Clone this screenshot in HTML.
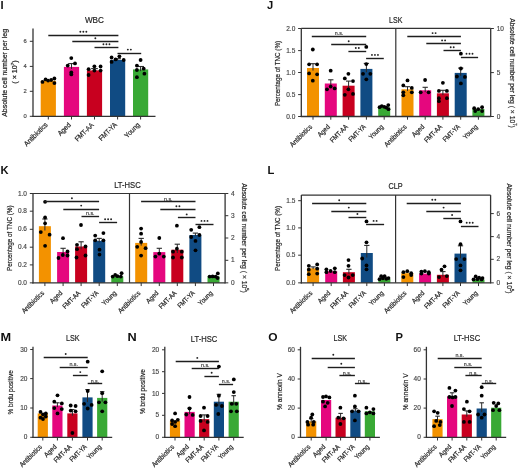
<!DOCTYPE html>
<html><head><meta charset="utf-8"><style>
html,body{margin:0;padding:0;background:#fff;}
svg{display:block;font-family:"Liberation Sans", sans-serif;will-change:transform;}
</style></head><body>
<svg width="520" height="470" viewBox="0 0 520 470">
<rect width="520" height="470" fill="#fff"/>
<text x="0.6" y="9.3" font-size="11.2" text-anchor="start" fill="#111" font-weight="bold">I</text>
<text x="94.4" y="22.7" font-size="9.2" text-anchor="middle" fill="#252525" textLength="19" lengthAdjust="spacingAndGlyphs" stroke="#252525" stroke-width="0.2">WBC</text>
<line x1="33" y1="28.5" x2="33" y2="116.9" stroke="#333" stroke-width="1.3"/>
<line x1="29.8" y1="41.3" x2="33" y2="41.3" stroke="#333" stroke-width="1.0"/>
<text x="26.8" y="43.21" font-size="5.8" text-anchor="end" fill="#444" stroke="#444" stroke-width="0.15">6</text>
<line x1="29.8" y1="66.4" x2="33" y2="66.4" stroke="#333" stroke-width="1.0"/>
<text x="26.8" y="68.31" font-size="5.8" text-anchor="end" fill="#444" stroke="#444" stroke-width="0.15">4</text>
<line x1="29.8" y1="91.3" x2="33" y2="91.3" stroke="#333" stroke-width="1.0"/>
<text x="26.8" y="93.21" font-size="5.8" text-anchor="end" fill="#444" stroke="#444" stroke-width="0.15">2</text>
<line x1="29.8" y1="116.3" x2="33" y2="116.3" stroke="#333" stroke-width="1.0"/>
<text x="26.8" y="118.21" font-size="5.8" text-anchor="end" fill="#444" stroke="#444" stroke-width="0.15">0</text>
<text x="7.2" y="72.9" font-size="6.9" text-anchor="middle" fill="#252525" transform="rotate(-90 7.2 72.9)" textLength="87.8" lengthAdjust="spacingAndGlyphs" stroke="#252525" stroke-width="0.2">Absolute cell number per leg</text>
<text x="16.6" y="72" font-size="6.9" text-anchor="middle" fill="#252525" transform="rotate(-90 16.6 72)" textLength="23.5" lengthAdjust="spacingAndGlyphs" stroke="#252525" stroke-width="0.2">( × 10<tspan font-size="4.4" dy="-2.6">7</tspan><tspan dy="2.6">)</tspan></text>
<rect x="40.7" y="80.8" width="15.2" height="35.5" fill="#F39200"/>
<rect x="63.9" y="66.9" width="15.2" height="49.4" fill="#E5077E"/>
<rect x="86.9" y="70.4" width="15.2" height="45.9" fill="#C8001F"/>
<rect x="110" y="59.9" width="15.2" height="56.4" fill="#104B83"/>
<rect x="133" y="69.4" width="15.2" height="46.9" fill="#39A935"/>
<circle cx="42.5" cy="81.9" r="1.9" fill="#000"/>
<circle cx="45.6" cy="79.4" r="1.9" fill="#000"/>
<circle cx="48.1" cy="80.6" r="1.9" fill="#000"/>
<circle cx="51.2" cy="80" r="1.9" fill="#000"/>
<circle cx="54.4" cy="78.5" r="1.9" fill="#000"/>
<circle cx="54.4" cy="83.1" r="1.9" fill="#000"/>
<line x1="71.5" y1="63.6" x2="71.5" y2="68.88" stroke="#2a2a2a" stroke-width="1.0"/>
<line x1="68.16" y1="63.6" x2="74.84" y2="63.6" stroke="#2a2a2a" stroke-width="1.1"/>
<circle cx="71.3" cy="58.1" r="1.9" fill="#000"/>
<circle cx="75" cy="63.4" r="1.9" fill="#000"/>
<circle cx="67.7" cy="65.6" r="1.9" fill="#000"/>
<circle cx="71.3" cy="72.5" r="1.9" fill="#000"/>
<circle cx="71.3" cy="74.4" r="1.9" fill="#000"/>
<line x1="94.5" y1="68.6" x2="94.5" y2="71.48" stroke="#2a2a2a" stroke-width="1.0"/>
<line x1="91.16" y1="68.6" x2="97.84" y2="68.6" stroke="#2a2a2a" stroke-width="1.1"/>
<circle cx="88.6" cy="69.2" r="1.9" fill="#000"/>
<circle cx="94.4" cy="66.3" r="1.9" fill="#000"/>
<circle cx="100.6" cy="66.5" r="1.9" fill="#000"/>
<circle cx="88.6" cy="75" r="1.9" fill="#000"/>
<circle cx="94.4" cy="70.6" r="1.9" fill="#000"/>
<circle cx="100.6" cy="70.6" r="1.9" fill="#000"/>
<line x1="117.6" y1="58.7" x2="117.6" y2="60.62" stroke="#2a2a2a" stroke-width="1.0"/>
<line x1="114.26" y1="58.7" x2="120.94" y2="58.7" stroke="#2a2a2a" stroke-width="1.1"/>
<circle cx="111.6" cy="57.5" r="1.9" fill="#000"/>
<circle cx="115.6" cy="59.4" r="1.9" fill="#000"/>
<circle cx="119.4" cy="56.3" r="1.9" fill="#000"/>
<circle cx="123.7" cy="60" r="1.9" fill="#000"/>
<circle cx="111.6" cy="61.9" r="1.9" fill="#000"/>
<line x1="140.6" y1="66.5" x2="140.6" y2="71.14" stroke="#2a2a2a" stroke-width="1.0"/>
<line x1="137.26" y1="66.5" x2="143.94" y2="66.5" stroke="#2a2a2a" stroke-width="1.1"/>
<circle cx="140.6" cy="60" r="1.9" fill="#000"/>
<circle cx="136.9" cy="65.6" r="1.9" fill="#000"/>
<circle cx="143.7" cy="68.7" r="1.9" fill="#000"/>
<circle cx="136.9" cy="70" r="1.9" fill="#000"/>
<circle cx="144.4" cy="73.7" r="1.9" fill="#000"/>
<circle cx="136.9" cy="77.2" r="1.9" fill="#000"/>
<line x1="32.4" y1="116.3" x2="155.5" y2="116.3" stroke="#333" stroke-width="1.3"/>
<line x1="48.3" y1="116.3" x2="48.3" y2="119.5" stroke="#333" stroke-width="1.0"/>
<line x1="71.5" y1="116.3" x2="71.5" y2="119.5" stroke="#333" stroke-width="1.0"/>
<line x1="94.5" y1="116.3" x2="94.5" y2="119.5" stroke="#333" stroke-width="1.0"/>
<line x1="117.6" y1="116.3" x2="117.6" y2="119.5" stroke="#333" stroke-width="1.0"/>
<line x1="140.6" y1="116.3" x2="140.6" y2="119.5" stroke="#333" stroke-width="1.0"/>
<text x="48.1" y="125.4" font-size="7.2" text-anchor="end" fill="#252525" transform="rotate(-45 48.1 125.4)" textLength="30.12" lengthAdjust="spacingAndGlyphs" stroke="#252525" stroke-width="0.2">Antibiotics</text>
<text x="71.3" y="125.4" font-size="7.2" text-anchor="end" fill="#252525" transform="rotate(-45 71.3 125.4)" textLength="15.44" lengthAdjust="spacingAndGlyphs" stroke="#252525" stroke-width="0.2">Aged</text>
<text x="94.3" y="125.4" font-size="7.2" text-anchor="end" fill="#252525" transform="rotate(-45 94.3 125.4)" textLength="23.27" lengthAdjust="spacingAndGlyphs" stroke="#252525" stroke-width="0.2">FMT-AA</text>
<text x="117.4" y="125.4" font-size="7.2" text-anchor="end" fill="#252525" transform="rotate(-45 117.4 125.4)" textLength="22.32" lengthAdjust="spacingAndGlyphs" stroke="#252525" stroke-width="0.2">FMT-YA</text>
<text x="140.4" y="125.4" font-size="7.2" text-anchor="end" fill="#252525" transform="rotate(-45 140.4 125.4)" textLength="18.51" lengthAdjust="spacingAndGlyphs" stroke="#252525" stroke-width="0.2">Young</text>
<line x1="48.3" y1="35.5" x2="118.4" y2="35.5" stroke="#1e1e1e" stroke-width="1.4"/>
<circle cx="80.35" cy="31.7" r="0.95" fill="#222"/>
<circle cx="83.35" cy="31.7" r="0.95" fill="#222"/>
<circle cx="86.35" cy="31.7" r="0.95" fill="#222"/>
<line x1="72.3" y1="41.5" x2="118.4" y2="41.5" stroke="#1e1e1e" stroke-width="1.4"/>
<circle cx="95.35" cy="38.3" r="0.95" fill="#222"/>
<line x1="94.5" y1="47.5" x2="118.4" y2="47.5" stroke="#1e1e1e" stroke-width="1.4"/>
<circle cx="103.45" cy="44.3" r="0.95" fill="#222"/>
<circle cx="106.45" cy="44.3" r="0.95" fill="#222"/>
<circle cx="109.45" cy="44.3" r="0.95" fill="#222"/>
<line x1="117.5" y1="53.5" x2="141.2" y2="53.5" stroke="#1e1e1e" stroke-width="1.4"/>
<circle cx="127.85" cy="49.6" r="0.95" fill="#222"/>
<circle cx="130.85" cy="49.6" r="0.95" fill="#222"/>
<text x="267" y="9.3" font-size="11.2" text-anchor="start" fill="#111" font-weight="bold">J</text>
<text x="395.7" y="22.9" font-size="9.2" text-anchor="middle" fill="#252525" textLength="13.3" lengthAdjust="spacingAndGlyphs" stroke="#252525" stroke-width="0.2">LSK</text>
<line x1="301.3" y1="28.3" x2="301.3" y2="117.1" stroke="#333" stroke-width="1.3"/>
<line x1="298.1" y1="28.5" x2="301.3" y2="28.5" stroke="#333" stroke-width="1.0"/>
<text x="295.3" y="30.64" font-size="6.5" text-anchor="end" fill="#444" stroke="#444" stroke-width="0.15">2.0</text>
<line x1="298.1" y1="50.6" x2="301.3" y2="50.6" stroke="#333" stroke-width="1.0"/>
<text x="295.3" y="52.75" font-size="6.5" text-anchor="end" fill="#444" stroke="#444" stroke-width="0.15">1.5</text>
<line x1="298.1" y1="72.5" x2="301.3" y2="72.5" stroke="#333" stroke-width="1.0"/>
<text x="295.3" y="74.64" font-size="6.5" text-anchor="end" fill="#444" stroke="#444" stroke-width="0.15">1.0</text>
<line x1="298.1" y1="94.6" x2="301.3" y2="94.6" stroke="#333" stroke-width="1.0"/>
<text x="295.3" y="96.74" font-size="6.5" text-anchor="end" fill="#444" stroke="#444" stroke-width="0.15">0.5</text>
<line x1="298.1" y1="116.5" x2="301.3" y2="116.5" stroke="#333" stroke-width="1.0"/>
<text x="295.3" y="118.64" font-size="6.5" text-anchor="end" fill="#444" stroke="#444" stroke-width="0.15">0.0</text>
<line x1="490.7" y1="28.3" x2="490.7" y2="117.1" stroke="#333" stroke-width="1.3"/>
<line x1="490.7" y1="28.5" x2="493.9" y2="28.5" stroke="#333" stroke-width="1.0"/>
<text x="496.7" y="30.64" font-size="6.5" text-anchor="start" fill="#444" stroke="#444" stroke-width="0.15">10</text>
<line x1="490.7" y1="72.6" x2="493.9" y2="72.6" stroke="#333" stroke-width="1.0"/>
<text x="496.7" y="74.74" font-size="6.5" text-anchor="start" fill="#444" stroke="#444" stroke-width="0.15">5</text>
<line x1="490.7" y1="116.5" x2="493.9" y2="116.5" stroke="#333" stroke-width="1.0"/>
<text x="496.7" y="118.64" font-size="6.5" text-anchor="start" fill="#444" stroke="#444" stroke-width="0.15">0</text>
<line x1="301.3" y1="28.3" x2="490.7" y2="28.3" stroke="#333" stroke-width="1.2"/>
<line x1="395.8" y1="28.3" x2="395.8" y2="116.5" stroke="#333" stroke-width="1.2"/>
<text x="280.3" y="73.5" font-size="7.5" text-anchor="middle" fill="#252525" transform="rotate(-90 280.3 73.5)" textLength="65.2" lengthAdjust="spacingAndGlyphs" stroke="#252525" stroke-width="0.2">Percentage of TNC (%)</text>
<text x="510.1" y="73" font-size="7.6" text-anchor="middle" fill="#252525" transform="rotate(90 510.1 73)" textLength="109.5" lengthAdjust="spacingAndGlyphs" stroke="#252525" stroke-width="0.2">Absolute cell number per leg ( × 10<tspan font-size="4.71" dy="-2.89">7</tspan><tspan dy="2.89">)</tspan></text>
<rect x="307" y="68" width="12" height="48.5" fill="#F39200"/>
<rect x="324.8" y="83.5" width="12" height="33" fill="#E5077E"/>
<rect x="342.6" y="85.7" width="12" height="30.8" fill="#C8001F"/>
<rect x="360.4" y="68.9" width="12" height="47.6" fill="#104B83"/>
<rect x="378.2" y="107.5" width="12" height="9" fill="#39A935"/>
<line x1="313" y1="63.7" x2="313" y2="70.58" stroke="#2a2a2a" stroke-width="1.0"/>
<line x1="310.36" y1="63.7" x2="315.64" y2="63.7" stroke="#2a2a2a" stroke-width="1.1"/>
<circle cx="312.8" cy="49.5" r="1.9" fill="#000"/>
<circle cx="309.1" cy="64.3" r="1.9" fill="#000"/>
<circle cx="317.1" cy="64.3" r="1.9" fill="#000"/>
<circle cx="309.1" cy="73.4" r="1.9" fill="#000"/>
<circle cx="317.1" cy="74.3" r="1.9" fill="#000"/>
<circle cx="312.8" cy="80.7" r="1.9" fill="#000"/>
<line x1="330.8" y1="79.8" x2="330.8" y2="85.72" stroke="#2a2a2a" stroke-width="1.0"/>
<line x1="328.16" y1="79.8" x2="333.44" y2="79.8" stroke="#2a2a2a" stroke-width="1.1"/>
<circle cx="330.7" cy="70.7" r="1.9" fill="#000"/>
<circle cx="327" cy="89.3" r="1.9" fill="#000"/>
<circle cx="334.7" cy="88.4" r="1.9" fill="#000"/>
<circle cx="330.7" cy="86.6" r="1.9" fill="#000"/>
<line x1="348.6" y1="81.1" x2="348.6" y2="88.46" stroke="#2a2a2a" stroke-width="1.0"/>
<line x1="345.96" y1="81.1" x2="351.24" y2="81.1" stroke="#2a2a2a" stroke-width="1.1"/>
<circle cx="348.4" cy="73.8" r="1.9" fill="#000"/>
<circle cx="344.8" cy="78.4" r="1.9" fill="#000"/>
<circle cx="353" cy="81.1" r="1.9" fill="#000"/>
<circle cx="348.4" cy="89.3" r="1.9" fill="#000"/>
<circle cx="344.8" cy="94.8" r="1.9" fill="#000"/>
<circle cx="353" cy="93.9" r="1.9" fill="#000"/>
<line x1="366.4" y1="63.4" x2="366.4" y2="72.2" stroke="#2a2a2a" stroke-width="1.0"/>
<line x1="363.76" y1="63.4" x2="369.04" y2="63.4" stroke="#2a2a2a" stroke-width="1.1"/>
<circle cx="366.3" cy="46.9" r="1.9" fill="#000"/>
<circle cx="366.3" cy="64.1" r="1.9" fill="#000"/>
<circle cx="363" cy="73.8" r="1.9" fill="#000"/>
<circle cx="370.3" cy="73.8" r="1.9" fill="#000"/>
<circle cx="366.3" cy="79.3" r="1.9" fill="#000"/>
<circle cx="379.6" cy="107.2" r="1.9" fill="#000"/>
<circle cx="381.8" cy="106.1" r="1.9" fill="#000"/>
<circle cx="384.3" cy="106.8" r="1.9" fill="#000"/>
<circle cx="386.3" cy="107.6" r="1.9" fill="#000"/>
<circle cx="388.3" cy="105.1" r="1.9" fill="#000"/>
<circle cx="388.5" cy="109.2" r="1.9" fill="#000"/>
<rect x="401.5" y="89.3" width="12" height="27.2" fill="#F39200"/>
<rect x="419.2" y="90.3" width="12" height="26.2" fill="#E5077E"/>
<rect x="436.9" y="93.3" width="12" height="23.2" fill="#C8001F"/>
<rect x="454.7" y="72.9" width="12" height="43.6" fill="#104B83"/>
<rect x="472.4" y="109" width="12" height="7.5" fill="#39A935"/>
<line x1="407.5" y1="86.7" x2="407.5" y2="90.86" stroke="#2a2a2a" stroke-width="1.0"/>
<line x1="404.86" y1="86.7" x2="410.14" y2="86.7" stroke="#2a2a2a" stroke-width="1.1"/>
<circle cx="407.5" cy="80.4" r="1.9" fill="#000"/>
<circle cx="403.3" cy="85.4" r="1.9" fill="#000"/>
<circle cx="411.8" cy="87.9" r="1.9" fill="#000"/>
<circle cx="403.3" cy="92.3" r="1.9" fill="#000"/>
<circle cx="411.8" cy="92.3" r="1.9" fill="#000"/>
<circle cx="403.3" cy="95.3" r="1.9" fill="#000"/>
<line x1="425.2" y1="87.3" x2="425.2" y2="92.1" stroke="#2a2a2a" stroke-width="1.0"/>
<line x1="422.56" y1="87.3" x2="427.84" y2="87.3" stroke="#2a2a2a" stroke-width="1.1"/>
<circle cx="425.1" cy="80" r="1.9" fill="#000"/>
<circle cx="420.7" cy="92.3" r="1.9" fill="#000"/>
<circle cx="428.6" cy="92.3" r="1.9" fill="#000"/>
<line x1="442.9" y1="90.3" x2="442.9" y2="95.1" stroke="#2a2a2a" stroke-width="1.0"/>
<line x1="440.26" y1="90.3" x2="445.54" y2="90.3" stroke="#2a2a2a" stroke-width="1.1"/>
<circle cx="442.9" cy="82.8" r="1.9" fill="#000"/>
<circle cx="438.9" cy="90.9" r="1.9" fill="#000"/>
<circle cx="446.9" cy="90.9" r="1.9" fill="#000"/>
<circle cx="438.9" cy="98.2" r="1.9" fill="#000"/>
<circle cx="446.9" cy="98.2" r="1.9" fill="#000"/>
<circle cx="438.9" cy="101.2" r="1.9" fill="#000"/>
<line x1="460.7" y1="68.1" x2="460.7" y2="75.78" stroke="#2a2a2a" stroke-width="1.0"/>
<line x1="458.06" y1="68.1" x2="463.34" y2="68.1" stroke="#2a2a2a" stroke-width="1.1"/>
<circle cx="460.9" cy="53.7" r="1.9" fill="#000"/>
<circle cx="460.9" cy="68.5" r="1.9" fill="#000"/>
<circle cx="456.9" cy="76.5" r="1.9" fill="#000"/>
<circle cx="464.9" cy="76.9" r="1.9" fill="#000"/>
<circle cx="460.9" cy="83.4" r="1.9" fill="#000"/>
<circle cx="474.2" cy="108.2" r="1.9" fill="#000"/>
<circle cx="482.1" cy="107.2" r="1.9" fill="#000"/>
<circle cx="475.2" cy="111.1" r="1.9" fill="#000"/>
<circle cx="482.1" cy="111.1" r="1.9" fill="#000"/>
<circle cx="478.2" cy="109.2" r="1.9" fill="#000"/>
<line x1="300.7" y1="116.5" x2="490.7" y2="116.5" stroke="#333" stroke-width="1.3"/>
<line x1="313" y1="116.5" x2="313" y2="119.7" stroke="#333" stroke-width="1.0"/>
<line x1="330.8" y1="116.5" x2="330.8" y2="119.7" stroke="#333" stroke-width="1.0"/>
<line x1="348.6" y1="116.5" x2="348.6" y2="119.7" stroke="#333" stroke-width="1.0"/>
<line x1="366.4" y1="116.5" x2="366.4" y2="119.7" stroke="#333" stroke-width="1.0"/>
<line x1="384.2" y1="116.5" x2="384.2" y2="119.7" stroke="#333" stroke-width="1.0"/>
<line x1="407.5" y1="116.5" x2="407.5" y2="119.7" stroke="#333" stroke-width="1.0"/>
<line x1="425.2" y1="116.5" x2="425.2" y2="119.7" stroke="#333" stroke-width="1.0"/>
<line x1="442.9" y1="116.5" x2="442.9" y2="119.7" stroke="#333" stroke-width="1.0"/>
<line x1="460.7" y1="116.5" x2="460.7" y2="119.7" stroke="#333" stroke-width="1.0"/>
<line x1="478.4" y1="116.5" x2="478.4" y2="119.7" stroke="#333" stroke-width="1.0"/>
<text x="312.8" y="127.2" font-size="7.0" text-anchor="end" fill="#252525" transform="rotate(-45 312.8 127.2)" textLength="28.71" lengthAdjust="spacingAndGlyphs" stroke="#252525" stroke-width="0.2">Antibiotics</text>
<text x="330.6" y="127.2" font-size="7.0" text-anchor="end" fill="#252525" transform="rotate(-45 330.6 127.2)" textLength="14.71" lengthAdjust="spacingAndGlyphs" stroke="#252525" stroke-width="0.2">Aged</text>
<text x="348.4" y="127.2" font-size="7.0" text-anchor="end" fill="#252525" transform="rotate(-45 348.4 127.2)" textLength="22.18" lengthAdjust="spacingAndGlyphs" stroke="#252525" stroke-width="0.2">FMT-AA</text>
<text x="366.2" y="127.2" font-size="7.0" text-anchor="end" fill="#252525" transform="rotate(-45 366.2 127.2)" textLength="21.27" lengthAdjust="spacingAndGlyphs" stroke="#252525" stroke-width="0.2">FMT-YA</text>
<text x="384" y="127.2" font-size="7.0" text-anchor="end" fill="#252525" transform="rotate(-45 384 127.2)" textLength="17.64" lengthAdjust="spacingAndGlyphs" stroke="#252525" stroke-width="0.2">Young</text>
<text x="407.3" y="127.2" font-size="7.0" text-anchor="end" fill="#252525" transform="rotate(-45 407.3 127.2)" textLength="28.71" lengthAdjust="spacingAndGlyphs" stroke="#252525" stroke-width="0.2">Antibiotics</text>
<text x="425" y="127.2" font-size="7.0" text-anchor="end" fill="#252525" transform="rotate(-45 425 127.2)" textLength="14.71" lengthAdjust="spacingAndGlyphs" stroke="#252525" stroke-width="0.2">Aged</text>
<text x="442.7" y="127.2" font-size="7.0" text-anchor="end" fill="#252525" transform="rotate(-45 442.7 127.2)" textLength="22.18" lengthAdjust="spacingAndGlyphs" stroke="#252525" stroke-width="0.2">FMT-AA</text>
<text x="460.5" y="127.2" font-size="7.0" text-anchor="end" fill="#252525" transform="rotate(-45 460.5 127.2)" textLength="21.27" lengthAdjust="spacingAndGlyphs" stroke="#252525" stroke-width="0.2">FMT-YA</text>
<text x="478.2" y="127.2" font-size="7.0" text-anchor="end" fill="#252525" transform="rotate(-45 478.2 127.2)" textLength="17.64" lengthAdjust="spacingAndGlyphs" stroke="#252525" stroke-width="0.2">Young</text>
<line x1="311.8" y1="36.5" x2="366.2" y2="36.5" stroke="#1e1e1e" stroke-width="1.4"/>
<text x="339" y="35.1" font-size="6.2" text-anchor="middle" fill="#252525" textLength="8.6" lengthAdjust="spacingAndGlyphs" stroke="#252525" stroke-width="0.12">n.s.</text>
<line x1="331.2" y1="44.5" x2="366.2" y2="44.5" stroke="#1e1e1e" stroke-width="1.4"/>
<circle cx="348.7" cy="41.3" r="0.95" fill="#222"/>
<line x1="348.4" y1="51.5" x2="366.2" y2="51.5" stroke="#1e1e1e" stroke-width="1.4"/>
<circle cx="355.8" cy="48" r="0.95" fill="#222"/>
<circle cx="358.8" cy="48" r="0.95" fill="#222"/>
<line x1="366.1" y1="58.5" x2="383.8" y2="58.5" stroke="#1e1e1e" stroke-width="1.4"/>
<circle cx="371.95" cy="54.9" r="0.95" fill="#222"/>
<circle cx="374.95" cy="54.9" r="0.95" fill="#222"/>
<circle cx="377.95" cy="54.9" r="0.95" fill="#222"/>
<line x1="407.3" y1="36.5" x2="460.9" y2="36.5" stroke="#1e1e1e" stroke-width="1.4"/>
<circle cx="432.6" cy="33.1" r="0.95" fill="#222"/>
<circle cx="435.6" cy="33.1" r="0.95" fill="#222"/>
<line x1="426.3" y1="43.5" x2="460.9" y2="43.5" stroke="#1e1e1e" stroke-width="1.4"/>
<circle cx="442.1" cy="40.4" r="0.95" fill="#222"/>
<circle cx="445.1" cy="40.4" r="0.95" fill="#222"/>
<line x1="443.5" y1="50.5" x2="460.9" y2="50.5" stroke="#1e1e1e" stroke-width="1.4"/>
<circle cx="450.7" cy="47.3" r="0.95" fill="#222"/>
<circle cx="453.7" cy="47.3" r="0.95" fill="#222"/>
<line x1="460.9" y1="57.5" x2="478.1" y2="57.5" stroke="#1e1e1e" stroke-width="1.4"/>
<circle cx="466.5" cy="53.7" r="0.95" fill="#222"/>
<circle cx="469.5" cy="53.7" r="0.95" fill="#222"/>
<circle cx="472.5" cy="53.7" r="0.95" fill="#222"/>
<text x="0.6" y="174.4" font-size="11.2" text-anchor="start" fill="#111" font-weight="bold">K</text>
<text x="127.45" y="187.8" font-size="9.2" text-anchor="middle" fill="#252525" textLength="26.5" lengthAdjust="spacingAndGlyphs" stroke="#252525" stroke-width="0.2">LT-HSC</text>
<line x1="33" y1="193.5" x2="33" y2="283.45" stroke="#333" stroke-width="1.3"/>
<line x1="29.8" y1="193.5" x2="33" y2="193.5" stroke="#333" stroke-width="1.0"/>
<text x="27" y="195.65" font-size="6.5" text-anchor="end" fill="#444" stroke="#444" stroke-width="0.15">1.0</text>
<line x1="29.8" y1="211.2" x2="33" y2="211.2" stroke="#333" stroke-width="1.0"/>
<text x="27" y="213.34" font-size="6.5" text-anchor="end" fill="#444" stroke="#444" stroke-width="0.15">0.8</text>
<line x1="29.8" y1="229.3" x2="33" y2="229.3" stroke="#333" stroke-width="1.0"/>
<text x="27" y="231.45" font-size="6.5" text-anchor="end" fill="#444" stroke="#444" stroke-width="0.15">0.6</text>
<line x1="29.8" y1="247.2" x2="33" y2="247.2" stroke="#333" stroke-width="1.0"/>
<text x="27" y="249.34" font-size="6.5" text-anchor="end" fill="#444" stroke="#444" stroke-width="0.15">0.4</text>
<line x1="29.8" y1="264.9" x2="33" y2="264.9" stroke="#333" stroke-width="1.0"/>
<text x="27" y="267.04" font-size="6.5" text-anchor="end" fill="#444" stroke="#444" stroke-width="0.15">0.2</text>
<line x1="29.8" y1="282.85" x2="33" y2="282.85" stroke="#333" stroke-width="1.0"/>
<text x="27" y="285" font-size="6.5" text-anchor="end" fill="#444" stroke="#444" stroke-width="0.15">0.0</text>
<line x1="225.1" y1="193.5" x2="225.1" y2="283.45" stroke="#333" stroke-width="1.3"/>
<line x1="225.1" y1="193.5" x2="228.3" y2="193.5" stroke="#333" stroke-width="1.0"/>
<text x="231.1" y="195.65" font-size="6.5" text-anchor="start" fill="#444" stroke="#444" stroke-width="0.15">4</text>
<line x1="225.1" y1="215.7" x2="228.3" y2="215.7" stroke="#333" stroke-width="1.0"/>
<text x="231.1" y="217.84" font-size="6.5" text-anchor="start" fill="#444" stroke="#444" stroke-width="0.15">3</text>
<line x1="225.1" y1="238" x2="228.3" y2="238" stroke="#333" stroke-width="1.0"/>
<text x="231.1" y="240.15" font-size="6.5" text-anchor="start" fill="#444" stroke="#444" stroke-width="0.15">2</text>
<line x1="225.1" y1="260.3" x2="228.3" y2="260.3" stroke="#333" stroke-width="1.0"/>
<text x="231.1" y="262.44" font-size="6.5" text-anchor="start" fill="#444" stroke="#444" stroke-width="0.15">1</text>
<line x1="225.1" y1="282.85" x2="228.3" y2="282.85" stroke="#333" stroke-width="1.0"/>
<text x="231.1" y="285" font-size="6.5" text-anchor="start" fill="#444" stroke="#444" stroke-width="0.15">0</text>
<line x1="33" y1="193.5" x2="225.1" y2="193.5" stroke="#333" stroke-width="1.2"/>
<line x1="129.5" y1="193.5" x2="129.5" y2="282.85" stroke="#333" stroke-width="1.2"/>
<text x="12.5" y="238.2" font-size="7.5" text-anchor="middle" fill="#252525" transform="rotate(-90 12.5 238.2)" textLength="65.4" lengthAdjust="spacingAndGlyphs" stroke="#252525" stroke-width="0.2">Percentage of TNC (%)</text>
<text x="242.1" y="238" font-size="7.5" text-anchor="middle" fill="#252525" transform="rotate(90 242.1 238)" textLength="109.7" lengthAdjust="spacingAndGlyphs" stroke="#252525" stroke-width="0.2">Absolute cell number per leg ( × 10<tspan font-size="4.65" dy="-2.85">5</tspan><tspan dy="2.85">)</tspan></text>
<rect x="38.9" y="226.2" width="12" height="56.65" fill="#F39200"/>
<rect x="57.1" y="252" width="12" height="30.85" fill="#E5077E"/>
<rect x="75.1" y="246.5" width="12" height="36.35" fill="#C8001F"/>
<rect x="93.2" y="240.9" width="12" height="41.95" fill="#104B83"/>
<rect x="111.3" y="276.5" width="12" height="6.35" fill="#39A935"/>
<line x1="44.9" y1="219" x2="44.9" y2="230.52" stroke="#2a2a2a" stroke-width="1.0"/>
<line x1="42.26" y1="219" x2="47.54" y2="219" stroke="#2a2a2a" stroke-width="1.1"/>
<circle cx="45.1" cy="201.8" r="1.9" fill="#000"/>
<circle cx="45.1" cy="217.4" r="1.9" fill="#000"/>
<circle cx="45.1" cy="223.3" r="1.9" fill="#000"/>
<circle cx="40.8" cy="232.1" r="1.9" fill="#000"/>
<circle cx="49.6" cy="234.7" r="1.9" fill="#000"/>
<circle cx="45.1" cy="245.8" r="1.9" fill="#000"/>
<line x1="63.1" y1="248.3" x2="63.1" y2="254.22" stroke="#2a2a2a" stroke-width="1.0"/>
<line x1="60.46" y1="248.3" x2="65.74" y2="248.3" stroke="#2a2a2a" stroke-width="1.1"/>
<circle cx="63" cy="238.2" r="1.9" fill="#000"/>
<circle cx="67.5" cy="251.5" r="1.9" fill="#000"/>
<circle cx="62.8" cy="255" r="1.9" fill="#000"/>
<circle cx="67.5" cy="255.5" r="1.9" fill="#000"/>
<circle cx="58.5" cy="258" r="1.9" fill="#000"/>
<line x1="81.1" y1="241.8" x2="81.1" y2="249.32" stroke="#2a2a2a" stroke-width="1.0"/>
<line x1="78.46" y1="241.8" x2="83.74" y2="241.8" stroke="#2a2a2a" stroke-width="1.1"/>
<circle cx="81" cy="225" r="1.9" fill="#000"/>
<circle cx="77" cy="244.8" r="1.9" fill="#000"/>
<circle cx="85.5" cy="246.5" r="1.9" fill="#000"/>
<circle cx="77" cy="249.2" r="1.9" fill="#000"/>
<circle cx="76.5" cy="257.5" r="1.9" fill="#000"/>
<circle cx="85.5" cy="255.5" r="1.9" fill="#000"/>
<line x1="99.2" y1="238.4" x2="99.2" y2="242.4" stroke="#2a2a2a" stroke-width="1.0"/>
<line x1="96.56" y1="238.4" x2="101.84" y2="238.4" stroke="#2a2a2a" stroke-width="1.1"/>
<circle cx="95.2" cy="235.6" r="1.9" fill="#000"/>
<circle cx="103.4" cy="233.1" r="1.9" fill="#000"/>
<circle cx="95.2" cy="240.3" r="1.9" fill="#000"/>
<circle cx="103.4" cy="240.3" r="1.9" fill="#000"/>
<circle cx="99.5" cy="249.7" r="1.9" fill="#000"/>
<circle cx="99.5" cy="254.6" r="1.9" fill="#000"/>
<circle cx="115.2" cy="274.9" r="1.9" fill="#000"/>
<circle cx="121.6" cy="273.2" r="1.9" fill="#000"/>
<circle cx="112.7" cy="276.6" r="1.9" fill="#000"/>
<circle cx="117.4" cy="276.2" r="1.9" fill="#000"/>
<circle cx="120.8" cy="276.6" r="1.9" fill="#000"/>
<rect x="135.2" y="242.9" width="12" height="39.95" fill="#F39200"/>
<rect x="153.3" y="252.1" width="12" height="30.75" fill="#E5077E"/>
<rect x="171.3" y="249.7" width="12" height="33.15" fill="#C8001F"/>
<rect x="189.4" y="235" width="12" height="47.85" fill="#104B83"/>
<rect x="207.5" y="276.5" width="12" height="6.35" fill="#39A935"/>
<line x1="141.2" y1="238.4" x2="141.2" y2="245.6" stroke="#2a2a2a" stroke-width="1.0"/>
<line x1="138.56" y1="238.4" x2="143.84" y2="238.4" stroke="#2a2a2a" stroke-width="1.1"/>
<circle cx="141.1" cy="228.6" r="1.9" fill="#000"/>
<circle cx="141.1" cy="233.7" r="1.9" fill="#000"/>
<circle cx="141.1" cy="241.9" r="1.9" fill="#000"/>
<circle cx="137.2" cy="246.8" r="1.9" fill="#000"/>
<circle cx="145.6" cy="248.2" r="1.9" fill="#000"/>
<circle cx="141.1" cy="255.6" r="1.9" fill="#000"/>
<line x1="159.3" y1="248.3" x2="159.3" y2="254.38" stroke="#2a2a2a" stroke-width="1.0"/>
<line x1="156.66" y1="248.3" x2="161.94" y2="248.3" stroke="#2a2a2a" stroke-width="1.1"/>
<circle cx="159.3" cy="238" r="1.9" fill="#000"/>
<circle cx="155.4" cy="256.6" r="1.9" fill="#000"/>
<circle cx="163.8" cy="256.6" r="1.9" fill="#000"/>
<circle cx="159.3" cy="253.6" r="1.9" fill="#000"/>
<line x1="177.3" y1="244.2" x2="177.3" y2="253" stroke="#2a2a2a" stroke-width="1.0"/>
<line x1="174.66" y1="244.2" x2="179.94" y2="244.2" stroke="#2a2a2a" stroke-width="1.1"/>
<circle cx="176.9" cy="225.7" r="1.9" fill="#000"/>
<circle cx="173" cy="251.7" r="1.9" fill="#000"/>
<circle cx="181.8" cy="251.7" r="1.9" fill="#000"/>
<circle cx="173" cy="257.5" r="1.9" fill="#000"/>
<circle cx="181.8" cy="257.5" r="1.9" fill="#000"/>
<circle cx="176.9" cy="248.7" r="1.9" fill="#000"/>
<line x1="195.4" y1="233.1" x2="195.4" y2="236.14" stroke="#2a2a2a" stroke-width="1.0"/>
<line x1="192.76" y1="233.1" x2="198.04" y2="233.1" stroke="#2a2a2a" stroke-width="1.1"/>
<circle cx="191.2" cy="229.8" r="1.9" fill="#000"/>
<circle cx="199.4" cy="227.2" r="1.9" fill="#000"/>
<circle cx="191.2" cy="237" r="1.9" fill="#000"/>
<circle cx="199.4" cy="235" r="1.9" fill="#000"/>
<circle cx="195.5" cy="240.9" r="1.9" fill="#000"/>
<circle cx="195.5" cy="250.3" r="1.9" fill="#000"/>
<circle cx="217.8" cy="273.4" r="1.9" fill="#000"/>
<circle cx="209.6" cy="276.6" r="1.9" fill="#000"/>
<circle cx="212.6" cy="276.4" r="1.9" fill="#000"/>
<circle cx="215.6" cy="276.6" r="1.9" fill="#000"/>
<circle cx="217.6" cy="278" r="1.9" fill="#000"/>
<line x1="32.4" y1="282.85" x2="225.1" y2="282.85" stroke="#333" stroke-width="1.3"/>
<line x1="44.9" y1="282.85" x2="44.9" y2="286.05" stroke="#333" stroke-width="1.0"/>
<line x1="63.1" y1="282.85" x2="63.1" y2="286.05" stroke="#333" stroke-width="1.0"/>
<line x1="81.1" y1="282.85" x2="81.1" y2="286.05" stroke="#333" stroke-width="1.0"/>
<line x1="99.2" y1="282.85" x2="99.2" y2="286.05" stroke="#333" stroke-width="1.0"/>
<line x1="117.3" y1="282.85" x2="117.3" y2="286.05" stroke="#333" stroke-width="1.0"/>
<line x1="141.2" y1="282.85" x2="141.2" y2="286.05" stroke="#333" stroke-width="1.0"/>
<line x1="159.3" y1="282.85" x2="159.3" y2="286.05" stroke="#333" stroke-width="1.0"/>
<line x1="177.3" y1="282.85" x2="177.3" y2="286.05" stroke="#333" stroke-width="1.0"/>
<line x1="195.4" y1="282.85" x2="195.4" y2="286.05" stroke="#333" stroke-width="1.0"/>
<line x1="213.5" y1="282.85" x2="213.5" y2="286.05" stroke="#333" stroke-width="1.0"/>
<text x="44.7" y="293.55" font-size="7.0" text-anchor="end" fill="#252525" transform="rotate(-45 44.7 293.55)" textLength="28.71" lengthAdjust="spacingAndGlyphs" stroke="#252525" stroke-width="0.2">Antibiotics</text>
<text x="62.9" y="293.55" font-size="7.0" text-anchor="end" fill="#252525" transform="rotate(-45 62.9 293.55)" textLength="14.71" lengthAdjust="spacingAndGlyphs" stroke="#252525" stroke-width="0.2">Aged</text>
<text x="80.9" y="293.55" font-size="7.0" text-anchor="end" fill="#252525" transform="rotate(-45 80.9 293.55)" textLength="22.18" lengthAdjust="spacingAndGlyphs" stroke="#252525" stroke-width="0.2">FMT-AA</text>
<text x="99" y="293.55" font-size="7.0" text-anchor="end" fill="#252525" transform="rotate(-45 99 293.55)" textLength="21.27" lengthAdjust="spacingAndGlyphs" stroke="#252525" stroke-width="0.2">FMT-YA</text>
<text x="117.1" y="293.55" font-size="7.0" text-anchor="end" fill="#252525" transform="rotate(-45 117.1 293.55)" textLength="17.64" lengthAdjust="spacingAndGlyphs" stroke="#252525" stroke-width="0.2">Young</text>
<text x="141" y="293.55" font-size="7.0" text-anchor="end" fill="#252525" transform="rotate(-45 141 293.55)" textLength="28.71" lengthAdjust="spacingAndGlyphs" stroke="#252525" stroke-width="0.2">Antibiotics</text>
<text x="159.1" y="293.55" font-size="7.0" text-anchor="end" fill="#252525" transform="rotate(-45 159.1 293.55)" textLength="14.71" lengthAdjust="spacingAndGlyphs" stroke="#252525" stroke-width="0.2">Aged</text>
<text x="177.1" y="293.55" font-size="7.0" text-anchor="end" fill="#252525" transform="rotate(-45 177.1 293.55)" textLength="22.18" lengthAdjust="spacingAndGlyphs" stroke="#252525" stroke-width="0.2">FMT-AA</text>
<text x="195.2" y="293.55" font-size="7.0" text-anchor="end" fill="#252525" transform="rotate(-45 195.2 293.55)" textLength="21.27" lengthAdjust="spacingAndGlyphs" stroke="#252525" stroke-width="0.2">FMT-YA</text>
<text x="213.3" y="293.55" font-size="7.0" text-anchor="end" fill="#252525" transform="rotate(-45 213.3 293.55)" textLength="17.64" lengthAdjust="spacingAndGlyphs" stroke="#252525" stroke-width="0.2">Young</text>
<line x1="44.7" y1="201.5" x2="99.1" y2="201.5" stroke="#1e1e1e" stroke-width="1.4"/>
<circle cx="71.9" cy="198.3" r="0.95" fill="#222"/>
<line x1="63.3" y1="209.5" x2="99.1" y2="209.5" stroke="#1e1e1e" stroke-width="1.4"/>
<circle cx="81.2" cy="205.6" r="0.95" fill="#222"/>
<line x1="81.5" y1="216.5" x2="99.1" y2="216.5" stroke="#1e1e1e" stroke-width="1.4"/>
<text x="90.3" y="215" font-size="6.2" text-anchor="middle" fill="#252525" textLength="8.6" lengthAdjust="spacingAndGlyphs" stroke="#252525" stroke-width="0.12">n.s.</text>
<line x1="99.1" y1="222.5" x2="117.1" y2="222.5" stroke="#1e1e1e" stroke-width="1.4"/>
<circle cx="105.1" cy="219.3" r="0.95" fill="#222"/>
<circle cx="108.1" cy="219.3" r="0.95" fill="#222"/>
<circle cx="111.1" cy="219.3" r="0.95" fill="#222"/>
<line x1="141.1" y1="201.5" x2="195.5" y2="201.5" stroke="#1e1e1e" stroke-width="1.4"/>
<text x="168.3" y="200.7" font-size="6.2" text-anchor="middle" fill="#252525" textLength="8.6" lengthAdjust="spacingAndGlyphs" stroke="#252525" stroke-width="0.12">n.s.</text>
<line x1="160.3" y1="209.5" x2="195.5" y2="209.5" stroke="#1e1e1e" stroke-width="1.4"/>
<circle cx="176.4" cy="206.2" r="0.95" fill="#222"/>
<circle cx="179.4" cy="206.2" r="0.95" fill="#222"/>
<line x1="177.9" y1="217.5" x2="195.5" y2="217.5" stroke="#1e1e1e" stroke-width="1.4"/>
<circle cx="186.7" cy="214.4" r="0.95" fill="#222"/>
<line x1="195.5" y1="224.5" x2="213.5" y2="224.5" stroke="#1e1e1e" stroke-width="1.4"/>
<circle cx="201.5" cy="220.9" r="0.95" fill="#222"/>
<circle cx="204.5" cy="220.9" r="0.95" fill="#222"/>
<circle cx="207.5" cy="220.9" r="0.95" fill="#222"/>
<text x="267.4" y="174.4" font-size="11.2" text-anchor="start" fill="#111" font-weight="bold">L</text>
<text x="395.6" y="189.2" font-size="9.2" text-anchor="middle" fill="#252525" textLength="14.2" lengthAdjust="spacingAndGlyphs" stroke="#252525" stroke-width="0.2">CLP</text>
<line x1="301.35" y1="195.1" x2="301.35" y2="283.45" stroke="#333" stroke-width="1.3"/>
<line x1="298.15" y1="200.7" x2="301.35" y2="200.7" stroke="#333" stroke-width="1.0"/>
<text x="295.35" y="202.84" font-size="6.5" text-anchor="end" fill="#444" stroke="#444" stroke-width="0.15">1.5</text>
<line x1="298.15" y1="227.9" x2="301.35" y2="227.9" stroke="#333" stroke-width="1.0"/>
<text x="295.35" y="230.05" font-size="6.5" text-anchor="end" fill="#444" stroke="#444" stroke-width="0.15">1.0</text>
<line x1="298.15" y1="255.2" x2="301.35" y2="255.2" stroke="#333" stroke-width="1.0"/>
<text x="295.35" y="257.34" font-size="6.5" text-anchor="end" fill="#444" stroke="#444" stroke-width="0.15">0.5</text>
<line x1="298.15" y1="282.85" x2="301.35" y2="282.85" stroke="#333" stroke-width="1.0"/>
<text x="295.35" y="285" font-size="6.5" text-anchor="end" fill="#444" stroke="#444" stroke-width="0.15">0.0</text>
<line x1="490.6" y1="195.1" x2="490.6" y2="283.45" stroke="#333" stroke-width="1.3"/>
<line x1="490.6" y1="213.6" x2="493.8" y2="213.6" stroke="#333" stroke-width="1.0"/>
<text x="496.6" y="215.75" font-size="6.5" text-anchor="start" fill="#444" stroke="#444" stroke-width="0.15">6</text>
<line x1="490.6" y1="236.6" x2="493.8" y2="236.6" stroke="#333" stroke-width="1.0"/>
<text x="496.6" y="238.75" font-size="6.5" text-anchor="start" fill="#444" stroke="#444" stroke-width="0.15">4</text>
<line x1="490.6" y1="259.3" x2="493.8" y2="259.3" stroke="#333" stroke-width="1.0"/>
<text x="496.6" y="261.44" font-size="6.5" text-anchor="start" fill="#444" stroke="#444" stroke-width="0.15">2</text>
<line x1="490.6" y1="282.85" x2="493.8" y2="282.85" stroke="#333" stroke-width="1.0"/>
<text x="496.6" y="285" font-size="6.5" text-anchor="start" fill="#444" stroke="#444" stroke-width="0.15">0</text>
<line x1="301.35" y1="195.1" x2="490.6" y2="195.1" stroke="#333" stroke-width="1.2"/>
<line x1="395.6" y1="195.1" x2="395.6" y2="282.85" stroke="#333" stroke-width="1.2"/>
<text x="279.5" y="238.5" font-size="7.5" text-anchor="middle" fill="#252525" transform="rotate(-90 279.5 238.5)" textLength="65" lengthAdjust="spacingAndGlyphs" stroke="#252525" stroke-width="0.2">Percentage of TNC (%)</text>
<text x="507.3" y="238.6" font-size="7.4" text-anchor="middle" fill="#252525" transform="rotate(90 507.3 238.6)" textLength="110" lengthAdjust="spacingAndGlyphs" stroke="#252525" stroke-width="0.2">Absolute cell number per leg ( × 10<tspan font-size="4.59" dy="-2.81">5</tspan><tspan dy="2.81">)</tspan></text>
<rect x="307.1" y="268.3" width="12" height="14.55" fill="#F39200"/>
<rect x="325.2" y="271.2" width="12" height="11.65" fill="#E5077E"/>
<rect x="342.9" y="272.2" width="12" height="10.65" fill="#C8001F"/>
<rect x="360.8" y="253" width="12" height="29.85" fill="#104B83"/>
<rect x="378.4" y="279" width="12" height="3.85" fill="#39A935"/>
<line x1="313.1" y1="266.9" x2="313.1" y2="269.14" stroke="#2a2a2a" stroke-width="1.0"/>
<line x1="310.46" y1="266.9" x2="315.74" y2="266.9" stroke="#2a2a2a" stroke-width="1.1"/>
<circle cx="308.8" cy="265.8" r="1.9" fill="#000"/>
<circle cx="317.2" cy="264.4" r="1.9" fill="#000"/>
<circle cx="308.8" cy="269.7" r="1.9" fill="#000"/>
<circle cx="317.2" cy="268.7" r="1.9" fill="#000"/>
<circle cx="308.8" cy="274.2" r="1.9" fill="#000"/>
<circle cx="317.2" cy="273.6" r="1.9" fill="#000"/>
<circle cx="326.4" cy="269.3" r="1.9" fill="#000"/>
<circle cx="334.8" cy="268.3" r="1.9" fill="#000"/>
<circle cx="326.4" cy="272.2" r="1.9" fill="#000"/>
<circle cx="334.8" cy="272.2" r="1.9" fill="#000"/>
<circle cx="330.6" cy="271" r="1.9" fill="#000"/>
<line x1="348.9" y1="269.3" x2="348.9" y2="273.94" stroke="#2a2a2a" stroke-width="1.0"/>
<line x1="346.26" y1="269.3" x2="351.54" y2="269.3" stroke="#2a2a2a" stroke-width="1.1"/>
<circle cx="348.5" cy="260.1" r="1.9" fill="#000"/>
<circle cx="348.5" cy="265.8" r="1.9" fill="#000"/>
<circle cx="344.6" cy="275.1" r="1.9" fill="#000"/>
<circle cx="352.8" cy="275.1" r="1.9" fill="#000"/>
<circle cx="348.5" cy="277.5" r="1.9" fill="#000"/>
<line x1="366.8" y1="245.4" x2="366.8" y2="257.56" stroke="#2a2a2a" stroke-width="1.0"/>
<line x1="364.16" y1="245.4" x2="369.44" y2="245.4" stroke="#2a2a2a" stroke-width="1.1"/>
<circle cx="366.5" cy="221.4" r="1.9" fill="#000"/>
<circle cx="366.5" cy="242.3" r="1.9" fill="#000"/>
<circle cx="362.2" cy="258.5" r="1.9" fill="#000"/>
<circle cx="366.5" cy="265.4" r="1.9" fill="#000"/>
<circle cx="366.5" cy="269.3" r="1.9" fill="#000"/>
<circle cx="381.2" cy="276.2" r="1.9" fill="#000"/>
<circle cx="384.6" cy="276.2" r="1.9" fill="#000"/>
<circle cx="379.5" cy="279.2" r="1.9" fill="#000"/>
<circle cx="382.9" cy="278.3" r="1.9" fill="#000"/>
<circle cx="386.3" cy="278.8" r="1.9" fill="#000"/>
<circle cx="388.5" cy="278.1" r="1.9" fill="#000"/>
<rect x="401.3" y="273.2" width="12" height="9.65" fill="#F39200"/>
<rect x="419.1" y="273.6" width="12" height="9.25" fill="#E5077E"/>
<rect x="436.9" y="274.8" width="12" height="8.05" fill="#C8001F"/>
<rect x="454.5" y="253.6" width="12" height="29.25" fill="#104B83"/>
<rect x="472.5" y="279.5" width="12" height="3.35" fill="#39A935"/>
<circle cx="403.4" cy="272.2" r="1.9" fill="#000"/>
<circle cx="407.3" cy="271.2" r="1.9" fill="#000"/>
<circle cx="411.2" cy="273.2" r="1.9" fill="#000"/>
<circle cx="403.4" cy="277.1" r="1.9" fill="#000"/>
<circle cx="411.2" cy="275.1" r="1.9" fill="#000"/>
<circle cx="421.4" cy="271.6" r="1.9" fill="#000"/>
<circle cx="424.9" cy="271.2" r="1.9" fill="#000"/>
<circle cx="428.8" cy="272.2" r="1.9" fill="#000"/>
<circle cx="421.4" cy="273.6" r="1.9" fill="#000"/>
<circle cx="428.8" cy="273.6" r="1.9" fill="#000"/>
<line x1="442.9" y1="271.6" x2="442.9" y2="276.72" stroke="#2a2a2a" stroke-width="1.0"/>
<line x1="440.26" y1="271.6" x2="445.54" y2="271.6" stroke="#2a2a2a" stroke-width="1.1"/>
<circle cx="444.5" cy="266.3" r="1.9" fill="#000"/>
<circle cx="441.5" cy="269.7" r="1.9" fill="#000"/>
<circle cx="439" cy="277.1" r="1.9" fill="#000"/>
<circle cx="446.8" cy="276.1" r="1.9" fill="#000"/>
<line x1="460.5" y1="245.8" x2="460.5" y2="258.28" stroke="#2a2a2a" stroke-width="1.0"/>
<line x1="457.86" y1="245.8" x2="463.14" y2="245.8" stroke="#2a2a2a" stroke-width="1.1"/>
<circle cx="460.5" cy="221.4" r="1.9" fill="#000"/>
<circle cx="460.5" cy="244.2" r="1.9" fill="#000"/>
<circle cx="456.2" cy="259.1" r="1.9" fill="#000"/>
<circle cx="464.4" cy="259.1" r="1.9" fill="#000"/>
<circle cx="460.5" cy="265.4" r="1.9" fill="#000"/>
<circle cx="460.5" cy="270.3" r="1.9" fill="#000"/>
<circle cx="475.7" cy="276.4" r="1.9" fill="#000"/>
<circle cx="473.5" cy="279.4" r="1.9" fill="#000"/>
<circle cx="479.1" cy="277.7" r="1.9" fill="#000"/>
<circle cx="482.5" cy="278.1" r="1.9" fill="#000"/>
<circle cx="477.4" cy="279.2" r="1.9" fill="#000"/>
<circle cx="481.6" cy="279.4" r="1.9" fill="#000"/>
<line x1="300.75" y1="282.85" x2="490.6" y2="282.85" stroke="#333" stroke-width="1.3"/>
<line x1="313.1" y1="282.85" x2="313.1" y2="286.05" stroke="#333" stroke-width="1.0"/>
<line x1="331.2" y1="282.85" x2="331.2" y2="286.05" stroke="#333" stroke-width="1.0"/>
<line x1="348.9" y1="282.85" x2="348.9" y2="286.05" stroke="#333" stroke-width="1.0"/>
<line x1="366.8" y1="282.85" x2="366.8" y2="286.05" stroke="#333" stroke-width="1.0"/>
<line x1="384.4" y1="282.85" x2="384.4" y2="286.05" stroke="#333" stroke-width="1.0"/>
<line x1="407.3" y1="282.85" x2="407.3" y2="286.05" stroke="#333" stroke-width="1.0"/>
<line x1="425.1" y1="282.85" x2="425.1" y2="286.05" stroke="#333" stroke-width="1.0"/>
<line x1="442.9" y1="282.85" x2="442.9" y2="286.05" stroke="#333" stroke-width="1.0"/>
<line x1="460.5" y1="282.85" x2="460.5" y2="286.05" stroke="#333" stroke-width="1.0"/>
<line x1="478.5" y1="282.85" x2="478.5" y2="286.05" stroke="#333" stroke-width="1.0"/>
<text x="312.9" y="293.55" font-size="7.0" text-anchor="end" fill="#252525" transform="rotate(-45 312.9 293.55)" textLength="28.71" lengthAdjust="spacingAndGlyphs" stroke="#252525" stroke-width="0.2">Antibiotics</text>
<text x="331" y="293.55" font-size="7.0" text-anchor="end" fill="#252525" transform="rotate(-45 331 293.55)" textLength="14.71" lengthAdjust="spacingAndGlyphs" stroke="#252525" stroke-width="0.2">Aged</text>
<text x="348.7" y="293.55" font-size="7.0" text-anchor="end" fill="#252525" transform="rotate(-45 348.7 293.55)" textLength="22.18" lengthAdjust="spacingAndGlyphs" stroke="#252525" stroke-width="0.2">FMT-AA</text>
<text x="366.6" y="293.55" font-size="7.0" text-anchor="end" fill="#252525" transform="rotate(-45 366.6 293.55)" textLength="21.27" lengthAdjust="spacingAndGlyphs" stroke="#252525" stroke-width="0.2">FMT-YA</text>
<text x="384.2" y="293.55" font-size="7.0" text-anchor="end" fill="#252525" transform="rotate(-45 384.2 293.55)" textLength="17.64" lengthAdjust="spacingAndGlyphs" stroke="#252525" stroke-width="0.2">Young</text>
<text x="407.1" y="293.55" font-size="7.0" text-anchor="end" fill="#252525" transform="rotate(-45 407.1 293.55)" textLength="28.71" lengthAdjust="spacingAndGlyphs" stroke="#252525" stroke-width="0.2">Antibiotics</text>
<text x="424.9" y="293.55" font-size="7.0" text-anchor="end" fill="#252525" transform="rotate(-45 424.9 293.55)" textLength="14.71" lengthAdjust="spacingAndGlyphs" stroke="#252525" stroke-width="0.2">Aged</text>
<text x="442.7" y="293.55" font-size="7.0" text-anchor="end" fill="#252525" transform="rotate(-45 442.7 293.55)" textLength="22.18" lengthAdjust="spacingAndGlyphs" stroke="#252525" stroke-width="0.2">FMT-AA</text>
<text x="460.3" y="293.55" font-size="7.0" text-anchor="end" fill="#252525" transform="rotate(-45 460.3 293.55)" textLength="21.27" lengthAdjust="spacingAndGlyphs" stroke="#252525" stroke-width="0.2">FMT-YA</text>
<text x="478.3" y="293.55" font-size="7.0" text-anchor="end" fill="#252525" transform="rotate(-45 478.3 293.55)" textLength="17.64" lengthAdjust="spacingAndGlyphs" stroke="#252525" stroke-width="0.2">Young</text>
<line x1="312.1" y1="203.5" x2="366.3" y2="203.5" stroke="#1e1e1e" stroke-width="1.4"/>
<circle cx="339.2" cy="200.3" r="0.95" fill="#222"/>
<line x1="331.3" y1="211.5" x2="366.3" y2="211.5" stroke="#1e1e1e" stroke-width="1.4"/>
<circle cx="348.8" cy="207.6" r="0.95" fill="#222"/>
<line x1="348.5" y1="217.5" x2="366.3" y2="217.5" stroke="#1e1e1e" stroke-width="1.4"/>
<circle cx="357.4" cy="214" r="0.95" fill="#222"/>
<line x1="366.1" y1="224.5" x2="384.1" y2="224.5" stroke="#1e1e1e" stroke-width="1.4"/>
<circle cx="373.6" cy="220.9" r="0.95" fill="#222"/>
<circle cx="376.6" cy="220.9" r="0.95" fill="#222"/>
<line x1="406.7" y1="203.5" x2="460.9" y2="203.5" stroke="#1e1e1e" stroke-width="1.4"/>
<circle cx="432.3" cy="199.8" r="0.95" fill="#222"/>
<circle cx="435.3" cy="199.8" r="0.95" fill="#222"/>
<line x1="426.3" y1="211.5" x2="460.9" y2="211.5" stroke="#1e1e1e" stroke-width="1.4"/>
<circle cx="443.6" cy="207.6" r="0.95" fill="#222"/>
<line x1="443.3" y1="218.5" x2="460.9" y2="218.5" stroke="#1e1e1e" stroke-width="1.4"/>
<circle cx="452.1" cy="215" r="0.95" fill="#222"/>
<line x1="460.9" y1="226.5" x2="478.5" y2="226.5" stroke="#1e1e1e" stroke-width="1.4"/>
<circle cx="466.7" cy="222.8" r="0.95" fill="#222"/>
<circle cx="469.7" cy="222.8" r="0.95" fill="#222"/>
<circle cx="472.7" cy="222.8" r="0.95" fill="#222"/>
<text x="0.4" y="340.6" font-size="11.2" text-anchor="start" fill="#111" font-weight="bold" textLength="10.6" lengthAdjust="spacingAndGlyphs">M</text>
<text x="72.7" y="341.2" font-size="9.2" text-anchor="middle" fill="#252525" textLength="13.6" lengthAdjust="spacingAndGlyphs" stroke="#252525" stroke-width="0.2">LSK</text>
<line x1="33" y1="346.8" x2="33" y2="437.9" stroke="#333" stroke-width="1.3"/>
<line x1="30.2" y1="349.5" x2="33" y2="349.5" stroke="#333" stroke-width="1.0"/>
<text x="27.4" y="351.64" font-size="6.5" text-anchor="end" fill="#444" stroke="#444" stroke-width="0.15">30</text>
<line x1="30.2" y1="378.6" x2="33" y2="378.6" stroke="#333" stroke-width="1.0"/>
<text x="27.4" y="380.75" font-size="6.5" text-anchor="end" fill="#444" stroke="#444" stroke-width="0.15">20</text>
<line x1="30.2" y1="408" x2="33" y2="408" stroke="#333" stroke-width="1.0"/>
<text x="27.4" y="410.14" font-size="6.5" text-anchor="end" fill="#444" stroke="#444" stroke-width="0.15">10</text>
<line x1="30.2" y1="437.3" x2="33" y2="437.3" stroke="#333" stroke-width="1.0"/>
<text x="27.4" y="439.44" font-size="6.5" text-anchor="end" fill="#444" stroke="#444" stroke-width="0.15">0</text>
<text x="13.1" y="392.3" font-size="7.1" text-anchor="middle" fill="#252525" transform="rotate(-90 13.1 392.3)" textLength="44.3" lengthAdjust="spacingAndGlyphs" stroke="#252525" stroke-width="0.2">% brdu positive</text>
<rect x="37.7" y="413.4" width="10.2" height="23.9" fill="#F39200"/>
<rect x="52.3" y="405.5" width="10.2" height="31.8" fill="#E5077E"/>
<rect x="67.3" y="413.4" width="10.2" height="23.9" fill="#C8001F"/>
<rect x="82.4" y="397.4" width="10.2" height="39.9" fill="#104B83"/>
<rect x="97.1" y="397.9" width="10.2" height="39.4" fill="#39A935"/>
<circle cx="40.5" cy="411.9" r="1.9" fill="#000"/>
<circle cx="45.8" cy="413.4" r="1.9" fill="#000"/>
<circle cx="40.5" cy="417.7" r="1.9" fill="#000"/>
<circle cx="45.8" cy="416.6" r="1.9" fill="#000"/>
<circle cx="43" cy="414.5" r="1.9" fill="#000"/>
<circle cx="43" cy="419" r="1.9" fill="#000"/>
<line x1="57.4" y1="402.8" x2="57.4" y2="407.12" stroke="#2a2a2a" stroke-width="1.0"/>
<line x1="55.16" y1="402.8" x2="59.64" y2="402.8" stroke="#2a2a2a" stroke-width="1.1"/>
<circle cx="57.5" cy="395.3" r="1.9" fill="#000"/>
<circle cx="54.3" cy="401.7" r="1.9" fill="#000"/>
<circle cx="61.8" cy="403.4" r="1.9" fill="#000"/>
<circle cx="54.3" cy="408.1" r="1.9" fill="#000"/>
<circle cx="61.8" cy="409.1" r="1.9" fill="#000"/>
<circle cx="57.5" cy="413.4" r="1.9" fill="#000"/>
<line x1="72.4" y1="409.6" x2="72.4" y2="415.68" stroke="#2a2a2a" stroke-width="1.0"/>
<line x1="70.16" y1="409.6" x2="74.64" y2="409.6" stroke="#2a2a2a" stroke-width="1.1"/>
<circle cx="70.7" cy="405.5" r="1.9" fill="#000"/>
<circle cx="75.6" cy="406" r="1.9" fill="#000"/>
<circle cx="70.7" cy="410.6" r="1.9" fill="#000"/>
<circle cx="75.6" cy="411.3" r="1.9" fill="#000"/>
<circle cx="72.4" cy="433" r="1.9" fill="#000"/>
<line x1="87.5" y1="389.6" x2="87.5" y2="402.08" stroke="#2a2a2a" stroke-width="1.0"/>
<line x1="85.26" y1="389.6" x2="89.74" y2="389.6" stroke="#2a2a2a" stroke-width="1.1"/>
<circle cx="87.7" cy="361.7" r="1.9" fill="#000"/>
<circle cx="87.7" cy="391" r="1.9" fill="#000"/>
<circle cx="84.1" cy="403.8" r="1.9" fill="#000"/>
<circle cx="91.6" cy="404.9" r="1.9" fill="#000"/>
<circle cx="87.7" cy="408.5" r="1.9" fill="#000"/>
<line x1="102.2" y1="391.7" x2="102.2" y2="401.62" stroke="#2a2a2a" stroke-width="1.0"/>
<line x1="99.96" y1="391.7" x2="104.44" y2="391.7" stroke="#2a2a2a" stroke-width="1.1"/>
<circle cx="102.2" cy="371.3" r="1.9" fill="#000"/>
<circle cx="102.2" cy="393.2" r="1.9" fill="#000"/>
<circle cx="99" cy="402.3" r="1.9" fill="#000"/>
<circle cx="105.4" cy="402.3" r="1.9" fill="#000"/>
<circle cx="102.2" cy="411.3" r="1.9" fill="#000"/>
<line x1="32.4" y1="437.3" x2="112.2" y2="437.3" stroke="#333" stroke-width="1.3"/>
<line x1="42.8" y1="437.3" x2="42.8" y2="440.5" stroke="#333" stroke-width="1.0"/>
<line x1="57.4" y1="437.3" x2="57.4" y2="440.5" stroke="#333" stroke-width="1.0"/>
<line x1="72.4" y1="437.3" x2="72.4" y2="440.5" stroke="#333" stroke-width="1.0"/>
<line x1="87.5" y1="437.3" x2="87.5" y2="440.5" stroke="#333" stroke-width="1.0"/>
<line x1="102.2" y1="437.3" x2="102.2" y2="440.5" stroke="#333" stroke-width="1.0"/>
<text x="42.6" y="447.3" font-size="7.0" text-anchor="end" fill="#252525" transform="rotate(-45 42.6 447.3)" textLength="28.71" lengthAdjust="spacingAndGlyphs" stroke="#252525" stroke-width="0.2">Antibiotics</text>
<text x="57.2" y="447.3" font-size="7.0" text-anchor="end" fill="#252525" transform="rotate(-45 57.2 447.3)" textLength="14.71" lengthAdjust="spacingAndGlyphs" stroke="#252525" stroke-width="0.2">Aged</text>
<text x="72.2" y="447.3" font-size="7.0" text-anchor="end" fill="#252525" transform="rotate(-45 72.2 447.3)" textLength="22.18" lengthAdjust="spacingAndGlyphs" stroke="#252525" stroke-width="0.2">FMT-AA</text>
<text x="87.3" y="447.3" font-size="7.0" text-anchor="end" fill="#252525" transform="rotate(-45 87.3 447.3)" textLength="21.27" lengthAdjust="spacingAndGlyphs" stroke="#252525" stroke-width="0.2">FMT-YA</text>
<text x="102" y="447.3" font-size="7.0" text-anchor="end" fill="#252525" transform="rotate(-45 102 447.3)" textLength="17.64" lengthAdjust="spacingAndGlyphs" stroke="#252525" stroke-width="0.2">Young</text>
<line x1="43.7" y1="357.5" x2="87.7" y2="357.5" stroke="#1e1e1e" stroke-width="1.4"/>
<circle cx="65.7" cy="354" r="0.95" fill="#222"/>
<line x1="59.7" y1="367.5" x2="87.7" y2="367.5" stroke="#1e1e1e" stroke-width="1.4"/>
<text x="73.7" y="366.1" font-size="6.2" text-anchor="middle" fill="#252525" textLength="8.6" lengthAdjust="spacingAndGlyphs" stroke="#252525" stroke-width="0.12">n.s.</text>
<line x1="72.9" y1="375.5" x2="87.7" y2="375.5" stroke="#1e1e1e" stroke-width="1.4"/>
<circle cx="80.3" cy="372.1" r="0.95" fill="#222"/>
<line x1="87.7" y1="383.5" x2="102.2" y2="383.5" stroke="#1e1e1e" stroke-width="1.4"/>
<text x="94.95" y="382.5" font-size="6.2" text-anchor="middle" fill="#252525" textLength="8.6" lengthAdjust="spacingAndGlyphs" stroke="#252525" stroke-width="0.12">n.s.</text>
<text x="127.6" y="340.6" font-size="11.2" text-anchor="start" fill="#111" font-weight="bold" textLength="9.2" lengthAdjust="spacingAndGlyphs">N</text>
<text x="204" y="341.7" font-size="9.2" text-anchor="middle" fill="#252525" textLength="26.4" lengthAdjust="spacingAndGlyphs" stroke="#252525" stroke-width="0.2">LT-HSC</text>
<line x1="164.8" y1="346.8" x2="164.8" y2="437.9" stroke="#333" stroke-width="1.3"/>
<line x1="162" y1="349.8" x2="164.8" y2="349.8" stroke="#333" stroke-width="1.0"/>
<text x="159.2" y="351.94" font-size="6.5" text-anchor="end" fill="#444" stroke="#444" stroke-width="0.15">20</text>
<line x1="162" y1="371.7" x2="164.8" y2="371.7" stroke="#333" stroke-width="1.0"/>
<text x="159.2" y="373.84" font-size="6.5" text-anchor="end" fill="#444" stroke="#444" stroke-width="0.15">15</text>
<line x1="162" y1="393.4" x2="164.8" y2="393.4" stroke="#333" stroke-width="1.0"/>
<text x="159.2" y="395.54" font-size="6.5" text-anchor="end" fill="#444" stroke="#444" stroke-width="0.15">10</text>
<line x1="162" y1="415.3" x2="164.8" y2="415.3" stroke="#333" stroke-width="1.0"/>
<text x="159.2" y="417.44" font-size="6.5" text-anchor="end" fill="#444" stroke="#444" stroke-width="0.15">5</text>
<line x1="162" y1="437.3" x2="164.8" y2="437.3" stroke="#333" stroke-width="1.0"/>
<text x="159.2" y="439.44" font-size="6.5" text-anchor="end" fill="#444" stroke="#444" stroke-width="0.15">0</text>
<text x="144.9" y="391.6" font-size="7.1" text-anchor="middle" fill="#252525" transform="rotate(-90 144.9 391.6)" textLength="44.9" lengthAdjust="spacingAndGlyphs" stroke="#252525" stroke-width="0.2">% brdu positive</text>
<rect x="169.9" y="420.9" width="10.2" height="16.4" fill="#F39200"/>
<rect x="184.5" y="411.9" width="10.2" height="25.4" fill="#E5077E"/>
<rect x="199.1" y="419.1" width="10.2" height="18.2" fill="#C8001F"/>
<rect x="213.8" y="401.7" width="10.2" height="35.6" fill="#104B83"/>
<rect x="228.6" y="401.7" width="10.2" height="35.6" fill="#39A935"/>
<circle cx="175.1" cy="413.4" r="1.9" fill="#000"/>
<circle cx="172.1" cy="420.4" r="1.9" fill="#000"/>
<circle cx="177.8" cy="419.8" r="1.9" fill="#000"/>
<circle cx="175.1" cy="421.9" r="1.9" fill="#000"/>
<circle cx="172.1" cy="424" r="1.9" fill="#000"/>
<circle cx="175.1" cy="426.2" r="1.9" fill="#000"/>
<line x1="189.6" y1="408.1" x2="189.6" y2="414.18" stroke="#2a2a2a" stroke-width="1.0"/>
<line x1="187.36" y1="408.1" x2="191.84" y2="408.1" stroke="#2a2a2a" stroke-width="1.1"/>
<circle cx="189.5" cy="397" r="1.9" fill="#000"/>
<circle cx="189.5" cy="408.5" r="1.9" fill="#000"/>
<circle cx="186.3" cy="414.5" r="1.9" fill="#000"/>
<circle cx="192.7" cy="414.9" r="1.9" fill="#000"/>
<line x1="204.2" y1="414.9" x2="204.2" y2="421.62" stroke="#2a2a2a" stroke-width="1.0"/>
<line x1="201.96" y1="414.9" x2="206.44" y2="414.9" stroke="#2a2a2a" stroke-width="1.1"/>
<circle cx="204" cy="407.7" r="1.9" fill="#000"/>
<circle cx="200.6" cy="416" r="1.9" fill="#000"/>
<circle cx="207.6" cy="416" r="1.9" fill="#000"/>
<circle cx="200.6" cy="420.9" r="1.9" fill="#000"/>
<circle cx="207.6" cy="421.9" r="1.9" fill="#000"/>
<circle cx="204" cy="430.4" r="1.9" fill="#000"/>
<line x1="218.9" y1="394.3" x2="218.9" y2="406.14" stroke="#2a2a2a" stroke-width="1.0"/>
<line x1="216.66" y1="394.3" x2="221.14" y2="394.3" stroke="#2a2a2a" stroke-width="1.1"/>
<circle cx="218.9" cy="366.6" r="1.9" fill="#000"/>
<circle cx="218.9" cy="395.7" r="1.9" fill="#000"/>
<circle cx="216.1" cy="404.9" r="1.9" fill="#000"/>
<circle cx="221.9" cy="406" r="1.9" fill="#000"/>
<circle cx="218.3" cy="414" r="1.9" fill="#000"/>
<line x1="233.7" y1="395.7" x2="233.7" y2="405.3" stroke="#2a2a2a" stroke-width="1.0"/>
<line x1="231.46" y1="395.7" x2="235.94" y2="395.7" stroke="#2a2a2a" stroke-width="1.1"/>
<circle cx="233.8" cy="379.4" r="1.9" fill="#000"/>
<circle cx="233.8" cy="392.1" r="1.9" fill="#000"/>
<circle cx="231.7" cy="403.8" r="1.9" fill="#000"/>
<circle cx="236.3" cy="403.8" r="1.9" fill="#000"/>
<circle cx="231" cy="411.3" r="1.9" fill="#000"/>
<circle cx="236.8" cy="411.3" r="1.9" fill="#000"/>
<line x1="164.2" y1="437.3" x2="243.7" y2="437.3" stroke="#333" stroke-width="1.3"/>
<line x1="175" y1="437.3" x2="175" y2="440.5" stroke="#333" stroke-width="1.0"/>
<line x1="189.6" y1="437.3" x2="189.6" y2="440.5" stroke="#333" stroke-width="1.0"/>
<line x1="204.2" y1="437.3" x2="204.2" y2="440.5" stroke="#333" stroke-width="1.0"/>
<line x1="218.9" y1="437.3" x2="218.9" y2="440.5" stroke="#333" stroke-width="1.0"/>
<line x1="233.7" y1="437.3" x2="233.7" y2="440.5" stroke="#333" stroke-width="1.0"/>
<text x="174.8" y="447.3" font-size="7.0" text-anchor="end" fill="#252525" transform="rotate(-45 174.8 447.3)" textLength="28.71" lengthAdjust="spacingAndGlyphs" stroke="#252525" stroke-width="0.2">Antibiotics</text>
<text x="189.4" y="447.3" font-size="7.0" text-anchor="end" fill="#252525" transform="rotate(-45 189.4 447.3)" textLength="14.71" lengthAdjust="spacingAndGlyphs" stroke="#252525" stroke-width="0.2">Aged</text>
<text x="204" y="447.3" font-size="7.0" text-anchor="end" fill="#252525" transform="rotate(-45 204 447.3)" textLength="22.18" lengthAdjust="spacingAndGlyphs" stroke="#252525" stroke-width="0.2">FMT-AA</text>
<text x="218.7" y="447.3" font-size="7.0" text-anchor="end" fill="#252525" transform="rotate(-45 218.7 447.3)" textLength="21.27" lengthAdjust="spacingAndGlyphs" stroke="#252525" stroke-width="0.2">FMT-YA</text>
<text x="233.5" y="447.3" font-size="7.0" text-anchor="end" fill="#252525" transform="rotate(-45 233.5 447.3)" textLength="17.64" lengthAdjust="spacingAndGlyphs" stroke="#252525" stroke-width="0.2">Young</text>
<line x1="175.7" y1="361.5" x2="218.9" y2="361.5" stroke="#1e1e1e" stroke-width="1.4"/>
<circle cx="197.3" cy="357.9" r="0.95" fill="#222"/>
<line x1="191.7" y1="368.5" x2="218.9" y2="368.5" stroke="#1e1e1e" stroke-width="1.4"/>
<text x="205.3" y="367.2" font-size="6.2" text-anchor="middle" fill="#252525" textLength="8.6" lengthAdjust="spacingAndGlyphs" stroke="#252525" stroke-width="0.12">n.s.</text>
<line x1="204.4" y1="376.5" x2="218.9" y2="376.5" stroke="#1e1e1e" stroke-width="1.4"/>
<circle cx="211.65" cy="372.8" r="0.95" fill="#222"/>
<line x1="218.9" y1="384.5" x2="233.1" y2="384.5" stroke="#1e1e1e" stroke-width="1.4"/>
<text x="226" y="383.2" font-size="6.2" text-anchor="middle" fill="#252525" textLength="8.6" lengthAdjust="spacingAndGlyphs" stroke="#252525" stroke-width="0.12">n.s.</text>
<text x="268.3" y="340.6" font-size="11.2" text-anchor="start" fill="#111" font-weight="bold" textLength="9.3" lengthAdjust="spacingAndGlyphs">O</text>
<text x="340.3" y="341.2" font-size="9.2" text-anchor="middle" fill="#252525" textLength="13.6" lengthAdjust="spacingAndGlyphs" stroke="#252525" stroke-width="0.2">LSK</text>
<line x1="300.5" y1="346.8" x2="300.5" y2="437.9" stroke="#333" stroke-width="1.3"/>
<line x1="297.7" y1="349.8" x2="300.5" y2="349.8" stroke="#333" stroke-width="1.0"/>
<text x="294.9" y="351.94" font-size="6.5" text-anchor="end" fill="#444" stroke="#444" stroke-width="0.15">60</text>
<line x1="297.7" y1="379" x2="300.5" y2="379" stroke="#333" stroke-width="1.0"/>
<text x="294.9" y="381.14" font-size="6.5" text-anchor="end" fill="#444" stroke="#444" stroke-width="0.15">40</text>
<line x1="297.7" y1="408.1" x2="300.5" y2="408.1" stroke="#333" stroke-width="1.0"/>
<text x="294.9" y="410.25" font-size="6.5" text-anchor="end" fill="#444" stroke="#444" stroke-width="0.15">20</text>
<line x1="297.7" y1="437.3" x2="300.5" y2="437.3" stroke="#333" stroke-width="1.0"/>
<text x="294.9" y="439.44" font-size="6.5" text-anchor="end" fill="#444" stroke="#444" stroke-width="0.15">0</text>
<text x="282.2" y="391.5" font-size="7.1" text-anchor="middle" fill="#252525" transform="rotate(-90 282.2 391.5)" textLength="36.8" lengthAdjust="spacingAndGlyphs" stroke="#252525" stroke-width="0.2">% annexin V</text>
<rect x="306.1" y="421.3" width="10.2" height="16" fill="#F39200"/>
<rect x="321" y="400" width="10.2" height="37.3" fill="#E5077E"/>
<rect x="335.5" y="417.7" width="10.2" height="19.6" fill="#C8001F"/>
<rect x="350.3" y="410.6" width="10.2" height="26.7" fill="#104B83"/>
<rect x="364.8" y="411.3" width="10.2" height="26" fill="#39A935"/>
<line x1="311.2" y1="418.7" x2="311.2" y2="422.86" stroke="#2a2a2a" stroke-width="1.0"/>
<line x1="308.96" y1="418.7" x2="313.44" y2="418.7" stroke="#2a2a2a" stroke-width="1.1"/>
<circle cx="312.3" cy="414.5" r="1.9" fill="#000"/>
<circle cx="311.1" cy="417.7" r="1.9" fill="#000"/>
<circle cx="307.4" cy="421.9" r="1.9" fill="#000"/>
<circle cx="313.8" cy="421.9" r="1.9" fill="#000"/>
<circle cx="308.1" cy="424.7" r="1.9" fill="#000"/>
<circle cx="313.2" cy="424.7" r="1.9" fill="#000"/>
<circle cx="323" cy="397" r="1.9" fill="#000"/>
<circle cx="326" cy="396.4" r="1.9" fill="#000"/>
<circle cx="329.4" cy="397.4" r="1.9" fill="#000"/>
<circle cx="323" cy="401.7" r="1.9" fill="#000"/>
<circle cx="327.7" cy="402.8" r="1.9" fill="#000"/>
<circle cx="325.1" cy="406.4" r="1.9" fill="#000"/>
<line x1="340.6" y1="413.4" x2="340.6" y2="420.28" stroke="#2a2a2a" stroke-width="1.0"/>
<line x1="338.36" y1="413.4" x2="342.84" y2="413.4" stroke="#2a2a2a" stroke-width="1.1"/>
<circle cx="340.4" cy="407.7" r="1.9" fill="#000"/>
<circle cx="338.3" cy="417.7" r="1.9" fill="#000"/>
<circle cx="343.6" cy="418.3" r="1.9" fill="#000"/>
<circle cx="340.4" cy="424" r="1.9" fill="#000"/>
<line x1="355.4" y1="408.7" x2="355.4" y2="411.74" stroke="#2a2a2a" stroke-width="1.0"/>
<line x1="353.16" y1="408.7" x2="357.64" y2="408.7" stroke="#2a2a2a" stroke-width="1.1"/>
<circle cx="354.9" cy="395.7" r="1.9" fill="#000"/>
<circle cx="354.9" cy="406.4" r="1.9" fill="#000"/>
<circle cx="352.1" cy="411.3" r="1.9" fill="#000"/>
<circle cx="358.5" cy="411.3" r="1.9" fill="#000"/>
<circle cx="354.9" cy="420.4" r="1.9" fill="#000"/>
<circle cx="366.4" cy="407.7" r="1.9" fill="#000"/>
<circle cx="373.4" cy="409.1" r="1.9" fill="#000"/>
<circle cx="366.4" cy="413.4" r="1.9" fill="#000"/>
<circle cx="373.4" cy="413.4" r="1.9" fill="#000"/>
<circle cx="369.8" cy="412.3" r="1.9" fill="#000"/>
<line x1="299.9" y1="437.3" x2="379.9" y2="437.3" stroke="#333" stroke-width="1.3"/>
<line x1="311.2" y1="437.3" x2="311.2" y2="440.5" stroke="#333" stroke-width="1.0"/>
<line x1="326.1" y1="437.3" x2="326.1" y2="440.5" stroke="#333" stroke-width="1.0"/>
<line x1="340.6" y1="437.3" x2="340.6" y2="440.5" stroke="#333" stroke-width="1.0"/>
<line x1="355.4" y1="437.3" x2="355.4" y2="440.5" stroke="#333" stroke-width="1.0"/>
<line x1="369.9" y1="437.3" x2="369.9" y2="440.5" stroke="#333" stroke-width="1.0"/>
<text x="311" y="447.3" font-size="7.0" text-anchor="end" fill="#252525" transform="rotate(-45 311 447.3)" textLength="28.71" lengthAdjust="spacingAndGlyphs" stroke="#252525" stroke-width="0.2">Antibiotics</text>
<text x="325.9" y="447.3" font-size="7.0" text-anchor="end" fill="#252525" transform="rotate(-45 325.9 447.3)" textLength="14.71" lengthAdjust="spacingAndGlyphs" stroke="#252525" stroke-width="0.2">Aged</text>
<text x="340.4" y="447.3" font-size="7.0" text-anchor="end" fill="#252525" transform="rotate(-45 340.4 447.3)" textLength="22.18" lengthAdjust="spacingAndGlyphs" stroke="#252525" stroke-width="0.2">FMT-AA</text>
<text x="355.2" y="447.3" font-size="7.0" text-anchor="end" fill="#252525" transform="rotate(-45 355.2 447.3)" textLength="21.27" lengthAdjust="spacingAndGlyphs" stroke="#252525" stroke-width="0.2">FMT-YA</text>
<text x="369.7" y="447.3" font-size="7.0" text-anchor="end" fill="#252525" transform="rotate(-45 369.7 447.3)" textLength="17.64" lengthAdjust="spacingAndGlyphs" stroke="#252525" stroke-width="0.2">Young</text>
<line x1="311.7" y1="358.5" x2="354.9" y2="358.5" stroke="#1e1e1e" stroke-width="1.4"/>
<circle cx="333.3" cy="354.7" r="0.95" fill="#222"/>
<line x1="327.7" y1="367.5" x2="354.9" y2="367.5" stroke="#1e1e1e" stroke-width="1.4"/>
<circle cx="341.3" cy="363.8" r="0.95" fill="#222"/>
<line x1="339.4" y1="375.5" x2="354.9" y2="375.5" stroke="#1e1e1e" stroke-width="1.4"/>
<text x="347.15" y="374.6" font-size="6.2" text-anchor="middle" fill="#252525" textLength="8.6" lengthAdjust="spacingAndGlyphs" stroke="#252525" stroke-width="0.12">n.s.</text>
<line x1="354.9" y1="383.5" x2="369.8" y2="383.5" stroke="#1e1e1e" stroke-width="1.4"/>
<text x="362.35" y="382.5" font-size="6.2" text-anchor="middle" fill="#252525" textLength="8.6" lengthAdjust="spacingAndGlyphs" stroke="#252525" stroke-width="0.12">n.s.</text>
<text x="395.5" y="340.6" font-size="11.2" text-anchor="start" fill="#111" font-weight="bold">P</text>
<text x="466.9" y="341.2" font-size="9.2" text-anchor="middle" fill="#252525" textLength="26.5" lengthAdjust="spacingAndGlyphs" stroke="#252525" stroke-width="0.2">LT-HSC</text>
<line x1="426.4" y1="346.8" x2="426.4" y2="437.9" stroke="#333" stroke-width="1.3"/>
<line x1="423.6" y1="349.8" x2="426.4" y2="349.8" stroke="#333" stroke-width="1.0"/>
<text x="420.8" y="351.94" font-size="6.5" text-anchor="end" fill="#444" stroke="#444" stroke-width="0.15">60</text>
<line x1="423.6" y1="379" x2="426.4" y2="379" stroke="#333" stroke-width="1.0"/>
<text x="420.8" y="381.14" font-size="6.5" text-anchor="end" fill="#444" stroke="#444" stroke-width="0.15">40</text>
<line x1="423.6" y1="408.1" x2="426.4" y2="408.1" stroke="#333" stroke-width="1.0"/>
<text x="420.8" y="410.25" font-size="6.5" text-anchor="end" fill="#444" stroke="#444" stroke-width="0.15">20</text>
<line x1="423.6" y1="437.3" x2="426.4" y2="437.3" stroke="#333" stroke-width="1.0"/>
<text x="420.8" y="439.44" font-size="6.5" text-anchor="end" fill="#444" stroke="#444" stroke-width="0.15">0</text>
<text x="408.3" y="391.8" font-size="7.1" text-anchor="middle" fill="#252525" transform="rotate(-90 408.3 391.8)" textLength="37" lengthAdjust="spacingAndGlyphs" stroke="#252525" stroke-width="0.2">% annexin V</text>
<rect x="432.4" y="419.1" width="10.2" height="18.2" fill="#F39200"/>
<rect x="447" y="396.4" width="10.2" height="40.9" fill="#E5077E"/>
<rect x="461.7" y="414.5" width="10.2" height="22.8" fill="#C8001F"/>
<rect x="476.6" y="408.5" width="10.2" height="28.8" fill="#104B83"/>
<rect x="491.1" y="407.7" width="10.2" height="29.6" fill="#39A935"/>
<line x1="437.5" y1="416.2" x2="437.5" y2="420.84" stroke="#2a2a2a" stroke-width="1.0"/>
<line x1="435.26" y1="416.2" x2="439.74" y2="416.2" stroke="#2a2a2a" stroke-width="1.1"/>
<circle cx="434.1" cy="411.3" r="1.9" fill="#000"/>
<circle cx="437.7" cy="412.8" r="1.9" fill="#000"/>
<circle cx="436.2" cy="420.9" r="1.9" fill="#000"/>
<circle cx="440.5" cy="421.9" r="1.9" fill="#000"/>
<circle cx="434.1" cy="426.2" r="1.9" fill="#000"/>
<circle cx="439.8" cy="425.1" r="1.9" fill="#000"/>
<line x1="452.1" y1="392.8" x2="452.1" y2="398.56" stroke="#2a2a2a" stroke-width="1.0"/>
<line x1="449.86" y1="392.8" x2="454.34" y2="392.8" stroke="#2a2a2a" stroke-width="1.1"/>
<circle cx="449.4" cy="387.9" r="1.9" fill="#000"/>
<circle cx="455.4" cy="390.6" r="1.9" fill="#000"/>
<circle cx="449.4" cy="397" r="1.9" fill="#000"/>
<circle cx="455.4" cy="397" r="1.9" fill="#000"/>
<circle cx="452.6" cy="397.4" r="1.9" fill="#000"/>
<circle cx="452" cy="406" r="1.9" fill="#000"/>
<line x1="466.8" y1="410.9" x2="466.8" y2="416.66" stroke="#2a2a2a" stroke-width="1.0"/>
<line x1="464.56" y1="410.9" x2="469.04" y2="410.9" stroke="#2a2a2a" stroke-width="1.1"/>
<circle cx="466.9" cy="401.7" r="1.9" fill="#000"/>
<circle cx="463.9" cy="409.1" r="1.9" fill="#000"/>
<circle cx="469.6" cy="411.3" r="1.9" fill="#000"/>
<circle cx="463.9" cy="421.9" r="1.9" fill="#000"/>
<circle cx="469.6" cy="421.9" r="1.9" fill="#000"/>
<line x1="481.7" y1="402.8" x2="481.7" y2="411.92" stroke="#2a2a2a" stroke-width="1.0"/>
<line x1="479.46" y1="402.8" x2="483.94" y2="402.8" stroke="#2a2a2a" stroke-width="1.1"/>
<circle cx="481.7" cy="387.2" r="1.9" fill="#000"/>
<circle cx="481.7" cy="395.7" r="1.9" fill="#000"/>
<circle cx="478.1" cy="414.5" r="1.9" fill="#000"/>
<circle cx="484.5" cy="414.5" r="1.9" fill="#000"/>
<circle cx="481.7" cy="417.7" r="1.9" fill="#000"/>
<circle cx="493.7" cy="402.8" r="1.9" fill="#000"/>
<circle cx="498.3" cy="403.4" r="1.9" fill="#000"/>
<circle cx="493" cy="410.2" r="1.9" fill="#000"/>
<circle cx="499.4" cy="410.2" r="1.9" fill="#000"/>
<circle cx="496.2" cy="406" r="1.9" fill="#000"/>
<line x1="425.8" y1="437.3" x2="506.2" y2="437.3" stroke="#333" stroke-width="1.3"/>
<line x1="437.5" y1="437.3" x2="437.5" y2="440.5" stroke="#333" stroke-width="1.0"/>
<line x1="452.1" y1="437.3" x2="452.1" y2="440.5" stroke="#333" stroke-width="1.0"/>
<line x1="466.8" y1="437.3" x2="466.8" y2="440.5" stroke="#333" stroke-width="1.0"/>
<line x1="481.7" y1="437.3" x2="481.7" y2="440.5" stroke="#333" stroke-width="1.0"/>
<line x1="496.2" y1="437.3" x2="496.2" y2="440.5" stroke="#333" stroke-width="1.0"/>
<text x="437.3" y="447.3" font-size="7.0" text-anchor="end" fill="#252525" transform="rotate(-45 437.3 447.3)" textLength="28.71" lengthAdjust="spacingAndGlyphs" stroke="#252525" stroke-width="0.2">Antibiotics</text>
<text x="451.9" y="447.3" font-size="7.0" text-anchor="end" fill="#252525" transform="rotate(-45 451.9 447.3)" textLength="14.71" lengthAdjust="spacingAndGlyphs" stroke="#252525" stroke-width="0.2">Aged</text>
<text x="466.6" y="447.3" font-size="7.0" text-anchor="end" fill="#252525" transform="rotate(-45 466.6 447.3)" textLength="22.18" lengthAdjust="spacingAndGlyphs" stroke="#252525" stroke-width="0.2">FMT-AA</text>
<text x="481.5" y="447.3" font-size="7.0" text-anchor="end" fill="#252525" transform="rotate(-45 481.5 447.3)" textLength="21.27" lengthAdjust="spacingAndGlyphs" stroke="#252525" stroke-width="0.2">FMT-YA</text>
<text x="496" y="447.3" font-size="7.0" text-anchor="end" fill="#252525" transform="rotate(-45 496 447.3)" textLength="17.64" lengthAdjust="spacingAndGlyphs" stroke="#252525" stroke-width="0.2">Young</text>
<line x1="437.7" y1="358.5" x2="481.7" y2="358.5" stroke="#1e1e1e" stroke-width="1.4"/>
<text x="459.7" y="357" font-size="6.2" text-anchor="middle" fill="#252525" textLength="8.6" lengthAdjust="spacingAndGlyphs" stroke="#252525" stroke-width="0.12">n.s.</text>
<line x1="454.3" y1="367.5" x2="481.7" y2="367.5" stroke="#1e1e1e" stroke-width="1.4"/>
<text x="468" y="366.1" font-size="6.2" text-anchor="middle" fill="#252525" textLength="8.6" lengthAdjust="spacingAndGlyphs" stroke="#252525" stroke-width="0.12">n.s.</text>
<line x1="465.4" y1="375.5" x2="481.7" y2="375.5" stroke="#1e1e1e" stroke-width="1.4"/>
<text x="473.55" y="374.6" font-size="6.2" text-anchor="middle" fill="#252525" textLength="8.6" lengthAdjust="spacingAndGlyphs" stroke="#252525" stroke-width="0.12">n.s.</text>
<line x1="481.7" y1="383.5" x2="496.2" y2="383.5" stroke="#1e1e1e" stroke-width="1.4"/>
<text x="488.95" y="382.5" font-size="6.2" text-anchor="middle" fill="#252525" textLength="8.6" lengthAdjust="spacingAndGlyphs" stroke="#252525" stroke-width="0.12">n.s.</text>
</svg>
</body></html>
